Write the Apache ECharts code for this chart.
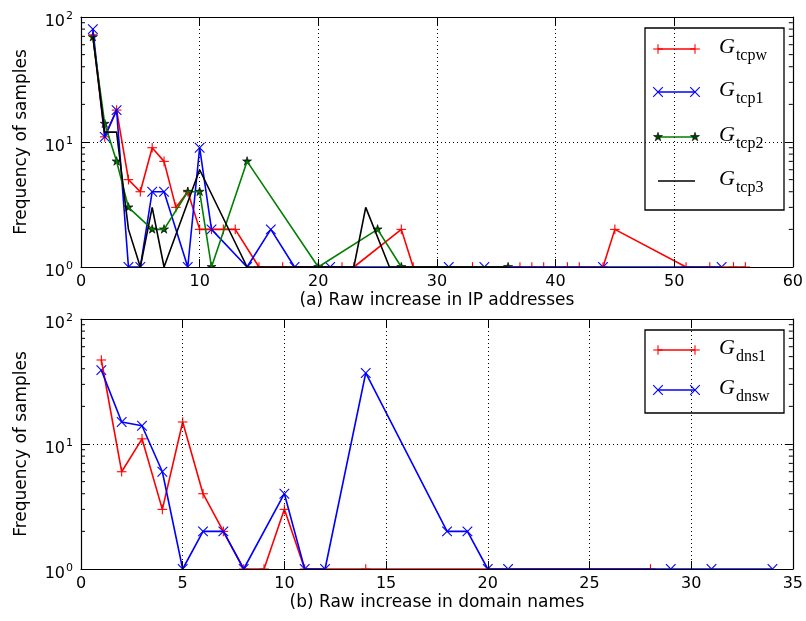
<!DOCTYPE html>
<html>
<head>
<meta charset="utf-8">
<script src="https://cdn.jsdelivr.net/npm/echarts@6/dist/echarts.min.js"></script>
<style>html,body{margin:0;padding:0;background:#fff}#c{width:806px;height:621px}</style>
</head>
<body>
<div id="c"></div>
<script>
// ---- data: top panel (a) ----
const tcpwX = [1,2,3,4,5,6,7,8,9,10,11,12,13,15,17,22,23,27,28,33,37,38,39,41,42,44,45,51,53,55,56];
const tcpwY = [72,11,18,5,4,9,7,3,4,2,2,2,2,1,1,1,1,2,1,1,1,1,1,1,1,1,2,1,1,1,1];
const tcp1X = [1,2,3,4,5,6,7,9,10,11,14,16,18,21,31,34,44,54];
const tcp1Y = [80,11,18,1,1,4,4,1,9,2,1,2,1,1,1,1,1,1];
const tcp2X = [1,2,3,4,6,7,9,10,11,14,20,25,27,36];
const tcp2Y = [69,14,7,3,2,2,4,4,1,7,1,2,1,1];
const tcp3X = [1,2,3,4,5,6,7,10,14,23,24,26,36];
const tcp3Y = [70,12,12,2,1,3,1,6,1,1,3,1,1];
// ---- data: bottom panel (b) ----
const dns1X = [1,2,3,4,5,6,7,8,9,10,11,14,28];
const dns1Y = [47,6,11,3,15,4,2,1,1,3,1,1,1];
const dnswX = [1,2,3,4,5,6,7,8,10,11,12,14,18,19,20,21,29,31,34];
const dnswY = [39,15,14,6,1,2,2,1,4,1,1,37,2,2,1,1,1,1,1];
// ---- axis ticks / labels ----
const yMinorTicks = [2,3,4,5,6,7,8,9,20,30,40,50,60,70,80,90];
const topLegend = ['tcpw','tcp1','tcp2','tcp3'];
const botLegend = ['dns1','dnsw'];
const xTitleTop = '(a) Raw increase in IP addresses';
const xTitleBot = '(b) Raw increase in domain names';
const yTitle = 'Frequency of samples';

const zip = (xs, ys) => xs.map((x, i) => [x, ys[i]]);

const FONT = 'DejaVu Sans';
const grids = [
  {left: 81, top: 17, width: 713, height: 250},
  {left: 81, top: 319, width: 713, height: 250}
];

function xAxes(gi, max, interval, name) {
  const base = {
    type: 'value', gridIndex: gi, min: 0, max: max, interval: interval,
    axisLine: {show: true, onZero: false, lineStyle: {color: '#000', width: 1.2}},
    axisTick: {show: true, inside: true, length: 8, lineStyle: {color: '#000'}},
  };
  return [
    Object.assign({}, base, {
      position: 'bottom', z: 5,
      axisLabel: {show: true, color: '#000', fontFamily: FONT, fontSize: 16, margin: 7},
      splitLine: {show: true, lineStyle: {color: '#000', type: [1, 3], width: 1}},
      name: name, nameLocation: 'middle', nameGap: 25,
      nameTextStyle: {color: '#000', fontFamily: FONT, fontSize: 17}
    }),
    Object.assign({}, base, {
      position: 'top', axisLabel: {show: false}, splitLine: {show: false}
    })
  ];
}
function yAxes(gi) {
  const base = {
    type: 'log', logBase: 10, gridIndex: gi, min: 1, max: 100, splitNumber: 2,
    axisLine: {show: true, onZero: false, lineStyle: {color: '#000', width: 1.2}},
    axisTick: {show: true, inside: true, length: 8, lineStyle: {color: '#000'}},
    minorTick: {show: false}
  };
  return [
    Object.assign({}, base, {
      position: 'left',
      axisLabel: {
        show: true, color: '#000', margin: 8,
        formatter: v => '{b|10}{s|' + Math.round(Math.log10(v)) + '}',
        rich: {
          b: {fontFamily: FONT, fontSize: 16, color: '#000', verticalAlign: 'bottom', padding: [10, 0, 0, 0]},
          s: {fontFamily: FONT, fontSize: 11, color: '#000', verticalAlign: 'bottom', padding: [0, 0, 8, 1]}
        }
      },
      splitLine: {show: true, lineStyle: {color: '#000', type: [1, 3], width: 1}},
      name: yTitle, nameLocation: 'middle', nameGap: 51, nameRotate: 90,
      nameTextStyle: {color: '#000', fontFamily: FONT, fontSize: 17}
    }),
    Object.assign({}, base, {
      position: 'right', axisLabel: {show: false}, splitLine: {show: false}
    })
  ];
}

function lineSeries(name, data, color, xi, yi) {
  return {
    type: 'line', name: name, data: data, xAxisIndex: xi, yAxisIndex: yi,
    showSymbol: false, symbol: 'none',
    lineStyle: {color: color, width: 1.6},
    animation: false, silent: true, clip: true
  };
}

// marker shapes (relative to a point)
function markerElems(kind, x, y, color) {
  const r = 4.8;
  const seg = (x1, y1, x2, y2) => ({type: 'line', shape: {x1: x1, y1: y1, x2: x2, y2: y2}, style: {stroke: color, lineWidth: 1.1}});
  if (kind === 'plus') return [seg(x - r, y, x + r, y), seg(x, y - r, x, y + r)];
  if (kind === 'cross') return [seg(x - r, y - r, x + r, y + r), seg(x + r, y - r, x - r, y + r)];
  if (kind === 'star') {
    const pts = [[5,0],[6.117,3.463],[9.755,3.455],[6.807,5.587],[7.939,9.045],[5,6.9],[2.061,9.045],[3.193,5.587],[0.245,3.455],[3.883,3.463]]
      .map(p => [x + (p[0]-5)*0.95, y + (p[1]-5)*0.95]);
    return [{type: 'polygon', shape: {points: pts}, style: {fill: '#004400', stroke: '#000', lineWidth: 0.6}}];
  }
  return [];
}

function markerSeries(name, data, kind, color, xi, yi) {
  return {
    type: 'custom', name: name + ' markers', xAxisIndex: xi, yAxisIndex: yi, silent: true,
    clip: true, animation: false, data: data,
    renderItem: (params, api) => {
      const p = api.coord([api.value(0), api.value(1)]);
      return {type: 'group', children: markerElems(kind, p[0], p[1], color)};
    }
  };
}

function minorTickSeries(xi, yi, xmax) {
  return {
    type: 'custom', xAxisIndex: xi, yAxisIndex: yi, silent: true, clip: false, animation: false,
    data: yMinorTicks.map(v => [0, v]), z: 10,
    renderItem: (params, api) => {
      const v = api.value(1);
      const pl = api.coord([0, v]);
      const pr = api.coord([xmax, v]);
      return {type: 'group', children: [
        {type: 'line', shape: {x1: pl[0], y1: pl[1], x2: pl[0] + 4, y2: pl[1]}, style: {stroke: '#000', lineWidth: 1}},
        {type: 'line', shape: {x1: pr[0] - 4, y1: pr[1], x2: pr[0], y2: pr[1]}, style: {stroke: '#000', lineWidth: 1}}
      ]};
    }
  };
}

function legendGraphic(box, entries) {
  const children = [{type: 'rect', shape: {x: box.x, y: box.y, width: box.w, height: box.h}, style: {fill: '#fff', stroke: '#000', lineWidth: 1.3}}];
  entries.forEach(e => {
    children.push({type: 'line', shape: {x1: 658, y1: e.y, x2: 695, y2: e.y}, style: {stroke: e.color, lineWidth: 1.6}});
    if (e.marker) {
      markerElems(e.marker, 658, e.y, e.color).forEach(g => children.push(g));
      markerElems(e.marker, 695, e.y, e.color).forEach(g => children.push(g));
    }
    children.push({type: 'text', x: 719, y: e.y + 1, style: {
      text: '{g|G}{s|' + e.label + '}', verticalAlign: 'middle', align: 'left',
      rich: {
        g: {fontFamily: 'Liberation Serif', fontStyle: 'italic', fontSize: 22, fill: '#000', verticalAlign: 'bottom', padding: [0, 1, 5, 0]},
        s: {fontFamily: 'Liberation Serif', fontSize: 16, fill: '#000', verticalAlign: 'bottom'}
      }
    }});
  });
  return {type: 'group', z: 100, children: children};
}

const colors = ['#ff0000', '#0000ff', '#008000', '#000000'];
const markers = ['plus', 'cross', 'star', null];
const topLegendYs = [49, 92, 137, 181];
const botLegendYs = [350, 390];

const option = {
  backgroundColor: '#fff',
  animation: false,
  grid: grids,
  xAxis: [].concat(xAxes(0, 60, 10, xTitleTop), xAxes(1, 35, 5, xTitleBot)),
  yAxis: [].concat(yAxes(0), yAxes(1)),
  series: [
    lineSeries('tcpw', zip(tcpwX, tcpwY), colors[0], 0, 0),
    markerSeries('tcpw', zip(tcpwX, tcpwY), 'plus', colors[0], 0, 0),
    lineSeries('tcp1', zip(tcp1X, tcp1Y), colors[1], 0, 0),
    markerSeries('tcp1', zip(tcp1X, tcp1Y), 'cross', colors[1], 0, 0),
    lineSeries('tcp2', zip(tcp2X, tcp2Y), colors[2], 0, 0),
    markerSeries('tcp2', zip(tcp2X, tcp2Y), 'star', colors[2], 0, 0),
    lineSeries('tcp3', zip(tcp3X, tcp3Y), colors[3], 0, 0),
    lineSeries('dns1', zip(dns1X, dns1Y), colors[0], 2, 2),
    markerSeries('dns1', zip(dns1X, dns1Y), 'plus', colors[0], 2, 2),
    lineSeries('dnsw', zip(dnswX, dnswY), colors[1], 2, 2),
    markerSeries('dnsw', zip(dnswX, dnswY), 'cross', colors[1], 2, 2),
    minorTickSeries(0, 0, 60),
    minorTickSeries(2, 2, 35)
  ],
  graphic: [
    legendGraphic({x: 645, y: 28, w: 139, h: 182}, topLegend.map((l, i) => ({label: l, color: colors[i], marker: markers[i], y: topLegendYs[i]}))),
    legendGraphic({x: 645, y: 330, w: 139, h: 83}, botLegend.map((l, i) => ({label: l, color: colors[i], marker: markers[i], y: botLegendYs[i]})))
  ]
};
const chart = echarts.init(document.getElementById('c'), null, {renderer: 'canvas'});
chart.setOption(option);
</script>
</body>
</html>
